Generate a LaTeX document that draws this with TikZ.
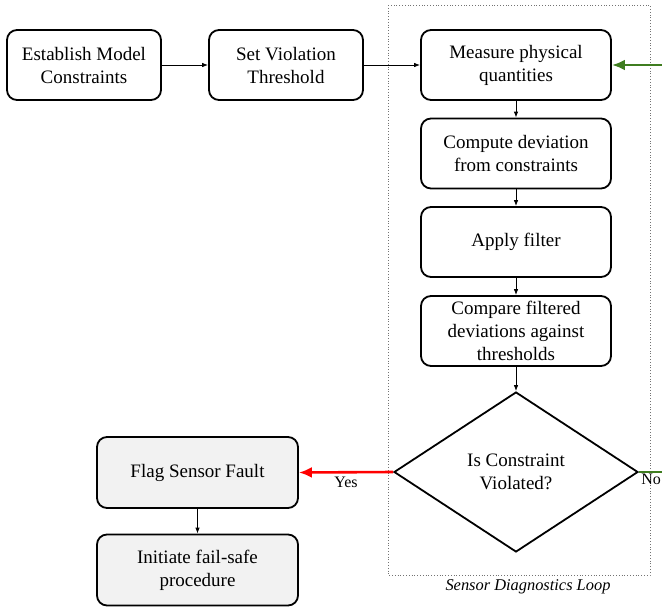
\documentclass[tikz,border=0pt]{standalone}
\usepackage{fontspec}
\setmainfont{Liberation Serif}
\usepackage{tikz}
\usetikzlibrary{positioning,shapes.geometric,arrows.meta}
\definecolor{loopgreen}{HTML}{3F7D20}
\begin{document}
\begin{tikzpicture}[x=1pt, y=-1pt, line width=0.8pt,
  stepbox/.style={draw=black, line width=1.8pt, rounded corners=10pt, align=center, font=\fontsize{19}{23}\selectfont, inner sep=2pt},
  faultbox/.style={stepbox, fill=black!5},
  decbox/.style={draw=black, line width=1.8pt, diamond, aspect=1.5, align=center, font=\fontsize{19}{23}\selectfont, inner sep=0pt, minimum width=244pt, minimum height=160pt},
  arr/.style={-{Latex[length=6pt,width=4.5pt]}, color=black, line width=0.8pt},
  yesarr/.style={-{Latex[length=13pt,width=11pt]}, color=red, line width=2.6pt},
  noarr/.style={-{Latex[length=13pt,width=11pt]}, color=loopgreen, line width=2.6pt}]
\useasboundingbox (0,0) rectangle (662,606);
% ---- loop frame
\draw[black!55, dotted, line width=0.8pt] (388,5) rectangle (650,575);
\node[font=\fontsize{16.4}{19}\selectfont\itshape] (looplabel) at (528,587) {Sensor Diagnostics Loop};
% ---- steps
\node[stepbox, minimum width=154pt, minimum height=70pt] (model) at (84,65) {Establish Model\\ Constraints};
\node[stepbox, minimum width=154pt, minimum height=70pt] (thresh) at (286,65) {Set Violation\\ Threshold};
\node[stepbox, minimum width=190pt, minimum height=70pt] (measure) at (516,65) {Measure physical\\ quantities};
\node[stepbox, minimum width=190pt, minimum height=70pt] (deviation) at (516,153.5) {Compute deviation\\ from constraints};
\node[stepbox, minimum width=190pt, minimum height=70pt] (filter) at (516,242) {Apply filter};
\node[stepbox, minimum width=190pt, minimum height=70pt] (compare) at (516,331) {Compare filtered\\ deviations against\\ thresholds};
\node[decbox] (violated) at (516,472) {Is Constraint\\ Violated?};
\node[faultbox, minimum width=201pt, minimum height=71pt] (flag) at (197.5,472.5) {Flag Sensor Fault};
\node[faultbox, minimum width=201pt, minimum height=71pt] (failsafe) at (197.5,570) {Initiate fail-safe\\ procedure};
% ---- connectors
\draw[arr] (model) -- (thresh);
\draw[arr] (thresh) -- (measure);
\draw[arr] (measure) -- (deviation);
\draw[arr] (deviation) -- (filter);
\draw[arr] (filter) -- (compare);
\draw[arr] (compare) -- (violated);
\draw[arr] (flag) -- (failsafe);
\draw[yesarr] (violated.west) -- node[below, font=\fontsize{16}{19}\selectfont, text=black, pos=0.5] {Yes} (flag.east);
\draw[noarr] (violated.east) -- ++(80,0) |- (measure.east);
\node[anchor=north west, font=\fontsize{16}{19}\selectfont, inner sep=2pt] (nolabel) at (violated.east) {No};
\end{tikzpicture}
\end{document}
